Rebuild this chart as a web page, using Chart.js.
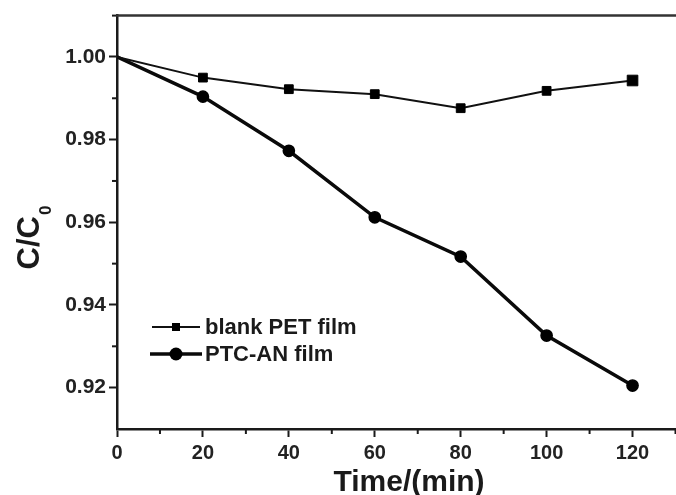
<!DOCTYPE html>
<html>
<head>
<meta charset="utf-8">
<script src="https://cdn.jsdelivr.net/npm/chart.js@4"></script>
<style>
  html, body { margin: 0; padding: 0; background: #fff; overflow: hidden; }
  canvas { display: block; }
</style>
</head>
<body>
<canvas id="chart" width="684" height="495" style="width:684px;height:495px"></canvas>
<script>
// Data
const timeMin = [0, 20, 40, 60, 80, 100, 120];
const blankPET = [1.000, 0.9950, 0.9922, 0.9910, 0.9876, 0.9918, 0.9943];
const ptcAN = [1.000, 0.9904, 0.9773, 0.9612, 0.9517, 0.9326, 0.9205];

const seriesLabels = ['blank PET film', 'PTC-AN film'];

// Axis ticks
const xMajorTicks = [0, 20, 40, 60, 80, 100, 120];
const xMinorTicks = [10, 30, 50, 70, 90, 110, 130];
const yMajorTicks = [0.92, 0.94, 0.96, 0.98, 1.00];
const yMinorTicks = [0.93, 0.95, 0.97, 0.99, 1.01];

const FONT = "'Liberation Sans', Arial, sans-serif";
const INK = '#1a1a1a';

// Minor ticks, top frame line and axis titles
const decorPlugin = {
  id: 'decor',
  afterDraw(chart) {
    const ctx = chart.ctx;
    const area = chart.chartArea;
    const xs = chart.scales.x;
    const ys = chart.scales.y;
    ctx.save();
    ctx.strokeStyle = INK;
    ctx.lineWidth = 2;
    xMinorTicks.forEach(v => {
      const px = xs.getPixelForValue(v);
      ctx.beginPath();
      ctx.moveTo(px, area.bottom);
      ctx.lineTo(px, area.bottom + 5);
      ctx.stroke();
    });
    yMinorTicks.forEach(v => {
      const py = ys.getPixelForValue(v);
      ctx.beginPath();
      ctx.moveTo(area.left, py);
      ctx.lineTo(area.left - 5, py);
      ctx.stroke();
    });

    // top frame
    ctx.strokeStyle = '#333';
    ctx.lineWidth = 2.5;
    ctx.beginPath();
    ctx.moveTo(area.left - 1, area.top);
    ctx.lineTo(chart.width, area.top);
    ctx.stroke();

    // x title
    ctx.fillStyle = INK;
    ctx.font = `bold 30px ${FONT}`;
    ctx.textAlign = 'center';
    ctx.textBaseline = 'alphabetic';
    ctx.fillText('Time/(min)', 409, 491);

    // y title with subscript
    ctx.translate(30, 238);
    ctx.rotate(-Math.PI / 2);
    ctx.textAlign = 'left';
    ctx.textBaseline = 'middle';
    ctx.font = `bold 31px ${FONT}`;
    const wMain = ctx.measureText('C/C').width;
    ctx.font = `bold 17px ${FONT}`;
    const wSub = ctx.measureText('0').width;
    const start = -(wMain + wSub) / 2;
    ctx.font = `bold 31px ${FONT}`;
    ctx.fillText('C/C', start, 0);
    ctx.font = `bold 17px ${FONT}`;
    ctx.fillText('0', start + wMain + 1, 16);
    ctx.restore();
  }
};

// Legend inside the plot, lower left
const legendPlugin = {
  id: 'innerLegend',
  afterDraw(chart) {
    const ctx = chart.ctx;
    const rows = [
      { y: 327, x0: 152, x1: 200 },
      { y: 354, x0: 150, x1: 202 }
    ];
    ctx.save();
    chart.data.datasets.forEach((ds, i) => {
      const r = rows[i];
      const cx = (r.x0 + r.x1) / 2;
      ctx.strokeStyle = ds.borderColor;
      ctx.fillStyle = ds.pointBackgroundColor;
      ctx.lineWidth = ds.borderWidth;
      ctx.beginPath();
      ctx.moveTo(r.x0, r.y);
      ctx.lineTo(r.x1, r.y);
      ctx.stroke();
      if (ds.pointStyle === 'rect') {
        ctx.fillRect(cx - 4, r.y - 4, 8, 8);
      } else {
        ctx.beginPath();
        ctx.arc(cx, r.y, 6.5, 0, Math.PI * 2);
        ctx.fill();
      }
      ctx.fillStyle = INK;
      ctx.font = `bold 22px ${FONT}`;
      ctx.textAlign = 'left';
      ctx.textBaseline = 'middle';
      ctx.fillText(ds.label, 205, r.y + 1);
    });
    ctx.restore();
  }
};

const ctx = document.getElementById('chart').getContext('2d');
new Chart(ctx, {
  type: 'line',
  data: {
    datasets: [
      {
        label: seriesLabels[0],
        data: timeMin.map((t, i) => ({ x: t, y: blankPET[i] })),
        borderColor: '#111',
        borderWidth: 2,
        pointStyle: 'rect',
        pointBackgroundColor: '#000',
        pointBorderColor: '#000',
        pointBorderWidth: 1,
        pointRadius: c => c.dataIndex === 0 ? 0 : (c.dataIndex === timeMin.length - 1 ? 7.5 : 6.2),
        tension: 0
      },
      {
        label: seriesLabels[1],
        data: timeMin.map((t, i) => ({ x: t, y: ptcAN[i] })),
        borderColor: '#0a0a0a',
        borderWidth: 3.5,
        pointStyle: 'circle',
        pointBackgroundColor: '#000',
        pointBorderColor: '#000',
        pointBorderWidth: 1.5,
        pointRadius: c => c.dataIndex === 0 ? 0 : 5.6,
        tension: 0
      }
    ]
  },
  options: {
    responsive: false,
    animation: false,
    devicePixelRatio: 1,
    layout: { padding: { top: 14, right: 0.5, left: 0, bottom: 0 } },
    plugins: {
      legend: { display: false },
      tooltip: { enabled: false }
    },
    scales: {
      x: {
        type: 'linear',
        min: 0,
        max: 130,
        afterBuildTicks: s => { s.ticks = xMajorTicks.map(v => ({ value: v })); },
        afterFit: s => { s.height = 66; },
        border: { display: true, color: INK, width: 2.5 },
        grid: { drawOnChartArea: false, drawTicks: true, tickLength: 8, tickColor: INK, tickWidth: 2 },
        ticks: {
          padding: 4,
          color: '#222',
          font: { family: FONT, size: 20, weight: 'bold' },
          maxRotation: 0,
          callback: v => String(v)
        }
      },
      y: {
        min: 0.91,
        max: 1.01,
        afterBuildTicks: s => { s.ticks = yMajorTicks.map(v => ({ value: v })); },
        afterFit: s => { s.width = 117; },
        border: { display: true, color: INK, width: 2.5 },
        grid: { drawOnChartArea: false, drawTicks: true, tickLength: 8, tickColor: INK, tickWidth: 2 },
        ticks: {
          padding: 3,
          color: '#222',
          font: { family: FONT, size: 21, weight: 'bold' },
          callback: v => Number(v).toFixed(2)
        }
      }
    }
  },
  plugins: [decorPlugin, legendPlugin]
});
</script>
</body>
</html>
